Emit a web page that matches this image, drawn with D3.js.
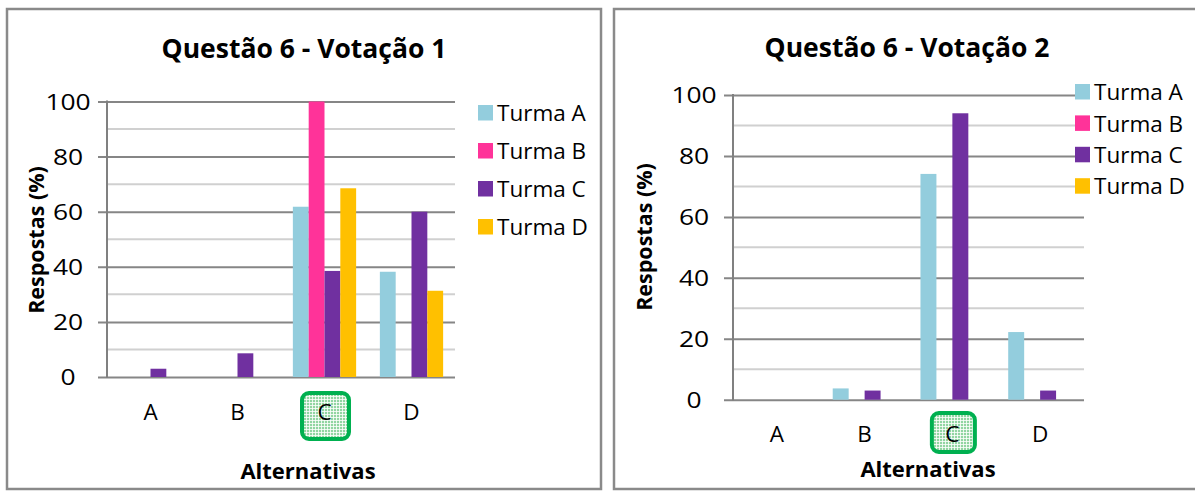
<!DOCTYPE html>
<html>
<head>
<meta charset="utf-8">
<script src="https://cdn.jsdelivr.net/npm/d3@7"></script>
<style>
  html, body { margin: 0; padding: 0; background: #ffffff; }
  svg { display: block; }
  text { font-family: "Open Sans", "Noto Sans", sans-serif; fill: #000; }
</style>
</head>
<body>
<svg id="chart" width="1195" height="491"></svg>
<script>
// Answer options and classes
const categories = ["A", "B", "C", "D"];
const series = ["Turma A", "Turma B", "Turma C", "Turma D"];
const seriesColors = ["#93CDDD", "#FF3399", "#7030A0", "#FFC000"];
const yTicks = [0, 20, 40, 60, 80, 100];
const yMinorTicks = [10, 30, 50, 70, 90];
const correctAnswer = "C";

// Vote 1: percentage of answers per option, one array per class
const vote1TurmaA = [0, 0, 61.8, 38.2];
const vote1TurmaB = [0, 0, 100, 0];
const vote1TurmaC = [3.0, 8.6, 38.5, 60.0];
const vote1TurmaD = [0, 0, 68.5, 31.3];

// Vote 2
const vote2TurmaA = [0, 3.7, 74.1, 22.2];
const vote2TurmaB = [0, 0, 0, 0];
const vote2TurmaC = [0, 3.0, 94.0, 3.0];
const vote2TurmaD = [0, 0, 0, 0];

const svg = d3.select("#chart");

// Hatched light-green fill for the correct-answer marker
const defs = svg.append("defs");
const pat = defs.append("pattern")
  .attr("id", "mintGrid").attr("patternUnits", "userSpaceOnUse")
  .attr("width", 3).attr("height", 3);
pat.append("rect").attr("width", 3).attr("height", 3).attr("fill", "#92d5a2");
pat.append("rect").attr("width", 3).attr("height", 1).attr("fill", "#ffffff").attr("opacity", 0.8);
pat.append("rect").attr("width", 1).attr("height", 3).attr("fill", "#ffffff").attr("opacity", 0.8);

// tick numerals are drawn a little wider than the base font
const tickStretch = 1.2;

function drawChart(cfg) {
  const g = svg.append("g");

  // panel frame
  g.append("rect")
    .attr("x", cfg.frame[0]).attr("y", cfg.frame[1])
    .attr("width", cfg.frame[2]).attr("height", cfg.frame[3])
    .attr("fill", "#fff").attr("stroke", "#8a8a8a").attr("stroke-width", 2.5);

  const x = d3.scaleBand().domain(categories).range([cfg.left, cfg.right]);
  // Excel-style gap width 150%: 4 bars + 1.5 bar widths of gap per band
  const barW = x.bandwidth() / (series.length + 1.5);
  const xInner = d3.scaleBand().domain(series)
    .range([0, barW * series.length]);
  const y = d3.scaleLinear().domain([0, 100]).range([cfg.bottom, cfg.top]);

  // minor gridlines
  g.append("g").selectAll("line").data(yMinorTicks).join("line")
    .attr("x1", cfg.left).attr("x2", cfg.right)
    .attr("y1", d => y(d)).attr("y2", d => y(d))
    .attr("stroke", "#d0d0d0").attr("stroke-width", 2);

  // major gridlines + y axis labels via d3 axis
  const yAxis = d3.axisLeft(y).tickValues(yTicks)
    .tickSize(-(cfg.right - cfg.left)).tickSizeOuter(0).tickPadding(0)
    .tickFormat(d3.format("d"));
  const ya = g.append("g").attr("transform", `translate(${cfg.left},0)`).call(yAxis);
  ya.select(".domain").remove();
  ya.selectAll(".tick line").attr("stroke", "#868686").attr("stroke-width", 2)
    .attr("x1", -9);
  ya.selectAll(".tick text")
    .attr("x", (cfg.tickLabelX - cfg.left) / tickStretch).attr("dy", "0.36em")
    .attr("transform", `scale(${tickStretch},1)`)
    .attr("font-size", 22).attr("fill", "#000")
    .attr("font-family", "Open Sans")
    .attr("text-anchor", "middle");

  // bars
  const bars = g.append("g");
  categories.forEach((cat, ci) => {
    const groupStart = x(cat) + (x.bandwidth() - barW * series.length) / 2;
    series.forEach((s, si) => {
      const v = cfg.values[si][ci];
      if (v <= 0) return;
      bars.append("rect")
        .attr("x", groupStart + xInner(s))
        .attr("y", y(v))
        .attr("width", barW)
        .attr("height", y(0) - y(v))
        .attr("fill", seriesColors[si]);
    });
  });

  // vertical axis line
  g.append("line")
    .attr("x1", cfg.left).attr("x2", cfg.left)
    .attr("y1", y(100) - 1).attr("y2", y(0) + 1)
    .attr("stroke", "#808080").attr("stroke-width", 2);

  // correct answer marker
  const cx = x(correctAnswer) + x.bandwidth() / 2;
  g.append("rect")
    .attr("x", cx - cfg.boxW / 2 + 1).attr("y", cfg.boxY)
    .attr("width", cfg.boxW).attr("height", cfg.boxH)
    .attr("rx", 7).attr("ry", 7)
    .attr("fill", "url(#mintGrid)")
    .attr("stroke", "#00B050").attr("stroke-width", 4);

  // category labels
  g.append("g").selectAll("text").data(categories).join("text")
    .attr("x", d => x(d) + x.bandwidth() / 2)
    .attr("y", cfg.catY)
    .attr("text-anchor", "middle")
    .attr("font-size", 22.5)
    .text(d => d);

  // titles
  g.append("text")
    .attr("x", cfg.titleX).attr("y", cfg.titleY)
    .attr("text-anchor", "middle").attr("font-weight", "bold")
    .attr("font-size", 26.5)
    .text(cfg.title);

  g.append("text")
    .attr("transform", `translate(${cfg.yTitleX},${cfg.yTitleY}) rotate(-90)`)
    .attr("text-anchor", "middle").attr("font-weight", "bold")
    .attr("font-size", 21.5)
    .text("Respostas (%)");

  g.append("text")
    .attr("x", cfg.xTitleX).attr("y", cfg.xTitleY)
    .attr("text-anchor", "middle").attr("font-weight", "bold")
    .attr("font-size", 22)
    .text("Alternativas");

  // legend
  const leg = g.append("g").selectAll("g").data(series).join("g")
    .attr("transform", (d, i) => `translate(${cfg.legX},${cfg.legY + i * cfg.legStep})`);
  leg.append("rect")
    .attr("x", 0).attr("y", -8).attr("width", 15).attr("height", 15.5)
    .attr("fill", (d, i) => seriesColors[i]);
  leg.append("text")
    .attr("x", 19).attr("y", 0).attr("dy", "0.36em")
    .attr("font-size", 22.5)
    .text(d => d);
}

drawChart({
  title: "Questão 6 - Votação 1",
  values: [vote1TurmaA, vote1TurmaB, vote1TurmaC, vote1TurmaD],
  frame: [7, 9, 594, 480],
  left: 107, right: 455, top: 101.5, bottom: 377,
  tickLabelX: 68,
  titleX: 304, titleY: 58,
  yTitleX: 44, yTitleY: 240,
  xTitleX: 308, xTitleY: 479,
  catY: 420,
  boxW: 47, boxH: 46, boxY: 393,
  legX: 478, legY: 113, legStep: 38
});

drawChart({
  title: "Questão 6 - Votação 2",
  values: [vote2TurmaA, vote2TurmaB, vote2TurmaC, vote2TurmaD],
  frame: [614, 9, 600, 480],
  left: 733, right: 1084, top: 95, bottom: 399.7,
  tickLabelX: 694,
  titleX: 907, titleY: 57,
  yTitleX: 652, yTitleY: 237,
  xTitleX: 928, xTitleY: 477,
  catY: 442,
  boxW: 43, boxH: 39, boxY: 413,
  legX: 1075, legY: 92, legStep: 31.4
});
</script>
</body>
</html>
